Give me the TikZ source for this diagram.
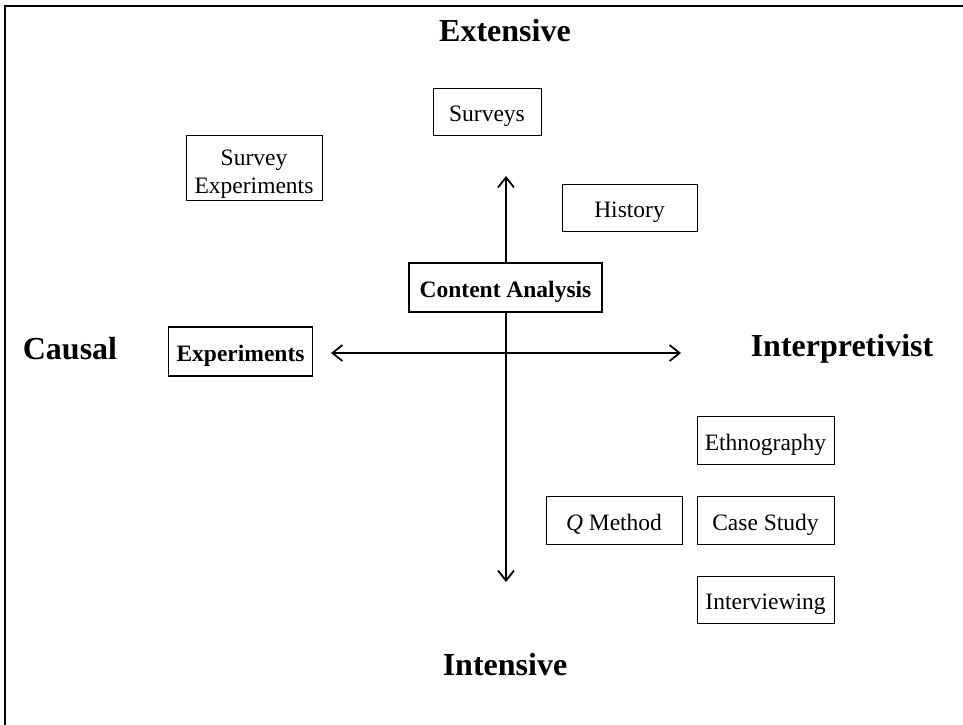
\documentclass[tikz,border=0pt]{standalone}
\usepackage{fontspec}
\setmainfont{Liberation Serif}
\usetikzlibrary{arrows.meta}

\begin{document}
\begin{tikzpicture}[x=1pt, y=-1pt, >={Straight Barb[length=10pt,width=16pt]},
  box/.style={draw, fill=white, line width=0.9pt, inner sep=0pt, minimum width=137pt, minimum height=48pt, text height=20pt, text depth=0pt, align=center, font=\fontsize{23.5}{28}\selectfont},
  keybox/.style={box, line width=1.8pt, font=\fontsize{23.5}{28}\selectfont\bfseries},
  pole/.style={font=\fontsize{32}{36}\selectfont\bfseries},
  axis/.style={line width=1.8pt, <->}]
  \useasboundingbox (0,0) rectangle (963,724);
  % frame, cut at the right and bottom
  \draw[line width=2pt] (5,730) -- (5,6) -- (970,6);
  % ---- poles ----
  \node[pole] (ext) at (505,31) {Extensive};
  \node[pole] (int) at (505,665) {Intensive};
  \node[pole] (cau) at (70,349) {Causal};
  \node[pole] (itp) at (842,349) {Interpretivist};
  % ---- axes ----
  \coordinate (ytop) at (506,176);
  \coordinate (ybot) at (506,582);
  \coordinate (xl) at (331,353);
  \coordinate (xr) at (681,353);
  \draw[axis] (ytop) -- (ybot);
  \draw[axis] (xl) -- (xr);
  % ---- methods ----
  \node[box, minimum width=108pt, minimum height=47pt] (srv) at (487,111.5) {Surveys};
  \node[box, minimum width=136pt, minimum height=65pt, text height=51pt] (sxp) at (254,167.5) {Survey\\Experiments};
  \node[box, minimum width=135pt, minimum height=47pt] (his) at (629.5,207.5) {History};
  \node[keybox, minimum width=193pt, minimum height=49pt] (cnt) at (505.5,287.5) {Content Analysis};
  \node[keybox, minimum width=144pt, minimum height=49pt] (exp) at (240.5,351.5) {Experiments};
  \node[box] (eth) at (765.5,440) {Ethnography};
  \node[box, minimum width=136pt] (qm) at (614,520) {\textit{Q} Method};
  \node[box] (cs) at (765.5,520) {Case Study};
  \node[box, minimum height=47pt] (itv) at (765.5,599.5) {Interviewing};
\end{tikzpicture}
\end{document}
